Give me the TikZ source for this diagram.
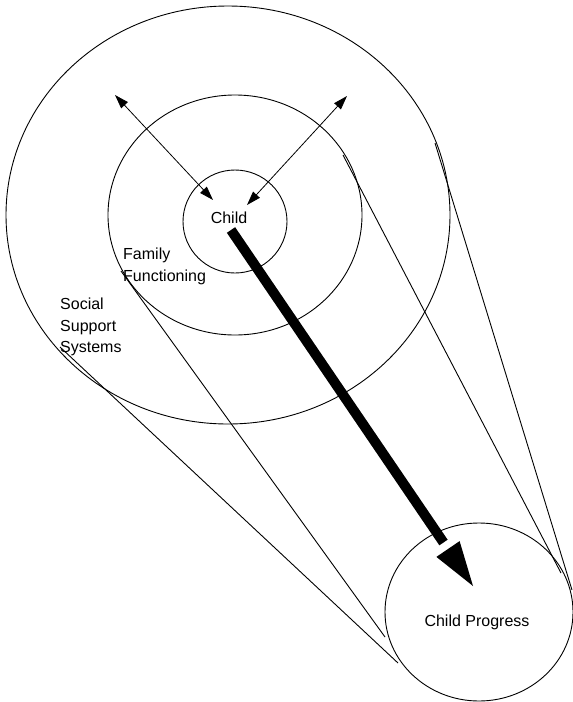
\documentclass[tikz,border=0pt]{standalone}
\usepackage{fontspec}
\setmainfont{Liberation Sans}
\usetikzlibrary{arrows.meta,shapes.geometric}
\begin{document}
\begin{tikzpicture}[x=1pt,y=-1pt,
  ring/.style={draw, ellipse, line width=0.9pt, inner sep=0pt},
  tline/.style={line width=0.9pt},
  dbl/.style={line width=0.8pt, {Triangle[length=14pt,width=9pt]}-{Triangle[length=14pt,width=9pt]}},
  lbl/.style={font=\fontsize{16}{21.5}\selectfont, inner sep=0pt, align=left}]
\useasboundingbox (0,0) rectangle (573,702);
% circles
\node[ring, minimum width=444pt, minimum height=418pt] (social) at (228,215) {};
\node[ring, minimum width=254pt, minimum height=240pt] (family) at (235,215) {};
\node[ring, minimum width=104pt, minimum height=103pt] (child) at (235,221.5) {};
\node[ring, minimum width=188pt, minimum height=178pt] (progress) at (479,612) {};
% tangent lines
\coordinate (l1a) at (121,271);  \coordinate (l1b) at (385,637);
\coordinate (l2a) at (60,347);   \coordinate (l2b) at (398,663);
\coordinate (l3a) at (343,155);  \coordinate (l3b) at (561,573);
\coordinate (l4a) at (435,143);  \coordinate (l4b) at (572,590);
\draw[tline] (l1a) -- (l1b);
\draw[tline] (l2a) -- (l2b);
\draw[tline] (l3a) -- (l3b);
\draw[tline] (l4a) -- (l4b);
% thin double arrows
\coordinate (ula) at (115,95);  \coordinate (ulb) at (213,200);
\coordinate (ura) at (347,96);  \coordinate (urb) at (247,205);
\draw[dbl] (ula) -- (ulb);
\draw[dbl] (ura) -- (urb);
% thick arrow
\coordinate (tail) at (231,230);
\coordinate (shaftend) at (443.5,542.5);
\coordinate (tip) at (473,586);
\coordinate (hb1) at (436.4,556.9);
\coordinate (hb2) at (459.6,541.1);
\draw[line width=10pt] (tail) -- (shaftend);
\fill (tip) -- (hb1) -- (hb2) -- cycle;
% labels
\node[lbl, anchor=base] (tchild) at (229,223) {Child};
\node[lbl, anchor=north west] (tfamily) at (123,248) {Family\\Functioning};
\node[lbl, anchor=north west] (tsocial) at (60,298) {Social\\Support\\Systems};
\node[lbl, anchor=base] (tprog) at (477,626) {Child Progress};
\end{tikzpicture}
\end{document}
